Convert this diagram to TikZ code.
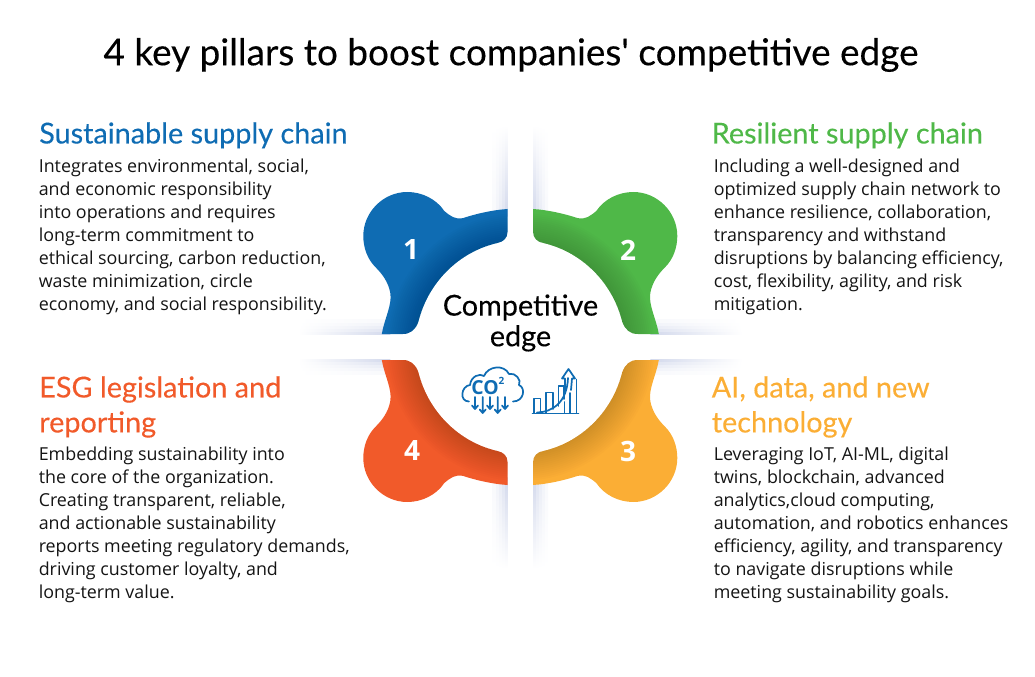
\documentclass[tikz,border=0pt]{standalone}
\usepackage{fontspec}
\setmainfont{Open Sans}
\newfontfamily\headfont[FakeBold=0.25]{Lato}
\usetikzlibrary{positioning}
\definecolor{pillarblue}{HTML}{0F6CB3}
\definecolor{pillargreen}{HTML}{4FB848}
\definecolor{pillarorange}{HTML}{FBAE35}
\definecolor{pillarred}{HTML}{F15A2A}
\definecolor{softshadow}{HTML}{D3D9EC}
\tikzstyle{headline} = [anchor=north west, align=left, inner sep=0pt,
    font=\headfont\fontsize{21.6}{26.2}\selectfont]
\tikzstyle{bodytext} = [anchor=north west, align=left, inner sep=0pt,
    text=black!92, font=\fontsize{13.4}{17.25}\selectfont]
\tikzstyle{numlabel} = [text=white, inner sep=0pt, font=\bfseries\fontsize{21}{24}\selectfont]
\tikzstyle{icon} = [draw=pillarblue, line width=1.3pt, line join=round, line cap=round]
\tikzset{
    vup/.style={top color=white, bottom color=softshadow!#1!white},
    vdown/.style={top color=softshadow!#1!white, bottom color=white},
    hleft/.style={left color=white, right color=softshadow!#1!white},
    hright/.style={left color=softshadow!#1!white, right color=white},
    pics/petal/.style={code={
        \begin{scope}
        \clip (-12.8,-138) -- (-12.8,-115) .. controls (-12.8,-109) and (-17,-105) .. (-23,-104)
            .. controls (-62,-95) and (-92.5,-64) .. (-102,-25)
            .. controls (-105,-17) and (-110,-13) .. (-117.5,-13) -- (-138.5,-13)
            .. controls (-136,-28) and (-128,-42) .. (-130,-54)
            .. controls (-132,-65) and (-138,-73) .. (-145,-80)
            .. controls (-153,-88) and (-157,-99.5) .. (-157,-111)
            .. controls (-157,-135) and (-137,-155) .. (-113,-155)
            .. controls (-98.4,-155) and (-84,-148) .. (-76,-136)
            .. controls (-70,-131) and (-65,-127) .. (-57,-129)
            .. controls (-45,-133) and (-28,-137) .. (-12.8,-138) -- cycle;
        \fill[#1] (-170,-170) rectangle (0,0);
        \foreach \r in {104,106,...,134} {
            \fill[black, opacity=0.01] (0,0) circle (\r);
        }
        \end{scope}
    }}
}
\begin{document}
\begin{tikzpicture}[x=0.75pt, y=-0.75pt]
	\useasboundingbox (0,0) rectangle (1035,677);
	
	% soft shadows along the gaps
	\foreach \sx/\sy/\vs/\hs in {-1/-1/vup/hleft, 1/-1/vup/hright, -1/1/vdown/hleft, 1/1/vdown/hright} {
		\foreach \i/\p in {0/100,1/72,2/50,3/32,4/16} {
			\shade[\vs=\p] (520.3+\sx*12.8+\sx*\i*3,347+\sy*130) rectangle (520.3+\sx*15.8+\sx*\i*3,347+\sy*222);
			\shade[\hs=\p] (520.3+\sx*130,347+\sy*12.8+\sy*\i*3) rectangle (520.3+\sx*222,347+\sy*15.8+\sy*\i*3);
		}
	}
	
	% Place petals
	\pic at (520.3,347) {petal=pillarblue};
	\pic[xscale=-1] at (520.3,347) {petal=pillargreen};
	\pic[xscale=-1, yscale=-1] at (520.3,347) {petal=pillarorange};
	\pic[yscale=-1] at (520.3,347) {petal=pillarred};
	
	\node[numlabel] (num one) at (411,250) {1};
	\node[numlabel] (num two) at (628,250) {2};
	\node[numlabel] (num three) at (628,451) {3};
	\node[numlabel] (num four) at (412,451) {4};
	
	% Place texts
	\node[font=\headfont\fontsize{27.7}{32}\selectfont] (title) at (511,55) {4 key pillars to boost companies' competitive edge};
	
	\node[headline, text=pillarblue] (head one) at (39,122) {Sustainable supply chain};
	\node[bodytext] (body one) at (38.5,159) {Integrates environmental, social,\\and economic responsibility\\into operations and requires\\long-term commitment to\\ethical sourcing, carbon reduction,\\waste minimization, circle\\economy, and social responsibility.};
	
	\node[headline, text=pillargreen] (head two) at (711.5,122) {Resilient supply chain};
	\node[bodytext] (body two) at (713.5,159) {Including a well-designed and\\optimized supply chain network to\\enhance resilience, collaboration,\\transparency and withstand\\disruptions by balancing efficiency,\\cost, flexibility, agility, and risk\\mitigation.};
	
	\node[headline, text=pillarorange] (head three) at (711.5,376) {AI, data, and new\\technology};
	\node[bodytext] (body three) at (713.5,447) {Leveraging IoT, AI-ML, digital\\twins, blockchain, advanced\\analytics,cloud computing,\\automation, and robotics enhances\\efficiency, agility, and transparency\\to navigate disruptions while\\meeting sustainability goals.};
	
	\node[headline, text=pillarred] (head four) at (39,376) {ESG legislation and\\reporting};
	\node[bodytext] (body four) at (38.5,447) {Embedding sustainability into\\the core of the organization.\\Creating transparent, reliable,\\and actionable sustainability\\reports meeting regulatory demands,\\driving customer loyalty, and\\long-term value.};
	
	\node[align=center, font=\headfont\fontsize{21.6}{23}\selectfont] (center) at (520.5,323) {Competitive\\edge};
	
	% cloud icon
	\draw[icon] (469,401.5) .. controls (459,401.5) and (461,386) .. (470,385)
		.. controls (471,376) and (480,373) .. (484,376)
		.. controls (488,366) and (504,364) .. (509,374)
		.. controls (515,372) and (522,380) .. (519,385)
		.. controls (526,388) and (524,401.5) .. (513,401.5);
	\node[text=pillarblue, inner sep=0pt, font=\bfseries\fontsize{14.5}{16}\selectfont] (co) at (485,388) {CO};
	\node[text=pillarblue, inner sep=0pt, font=\bfseries\fontsize{7.5}{8}\selectfont] (co two) at (501.5,381) {2};
	\foreach \ax/\ay in {475/409, 482.7/413, 490/409, 497.7/413, 505/409} {
		\draw[icon] (\ax,397) -- (\ax,\ay) (\ax-3,\ay-3.5) -- (\ax,\ay) -- (\ax+3,\ay-3.5);
	}
	
	% chart icon
	\draw[icon] (532.5,413.5) -- (578.5,413.5);
	\draw[icon] (534,413) |- (540.5,398.5) -- (540.5,413);
	\draw[icon] (546,413) |- (553,392.5) -- (553,409);
	\draw[icon] (558.5,406) |- (564,386) -- (564,399);
	\draw[icon] (564.5,402) -- (564.5,413) (570,393) -- (570,413) (576.5,379.5) -- (576.5,413);
	\draw[icon] (537,412.5) .. controls (553,412) and (567,402) .. (568,378);
	\draw[icon] (565,390) -- (565,378.5) -- (562,378.5) -- (568.5,369) -- (575,378.5) -- (572,378.5) -- (571,390);
\end{tikzpicture}
\end{document}
